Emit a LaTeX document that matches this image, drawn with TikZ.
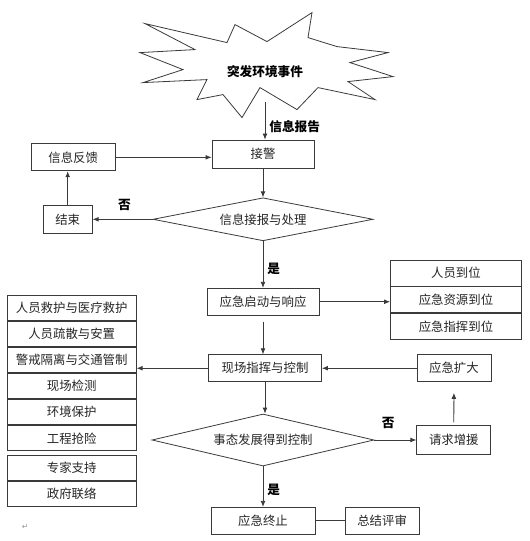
\documentclass[tikz,border=0pt]{standalone}
\usepackage{fontspec}
\setmainfont{Noto Sans CJK SC}
\newfontfamily\markfont{DejaVu Sans}
\usepackage{tikz}
\usetikzlibrary{arrows.meta,positioning,shapes.geometric}
\definecolor{ECLine}{HTML}{3A3A3A}
\definecolor{ECText}{HTML}{262626}
\definecolor{ECMark}{HTML}{9A9A9A}
\tikzset{
  ecBox/.style={
    rectangle, draw=ECLine, fill=white, line width=0.6pt,
    align=center, text=ECText, minimum width=#1, minimum height=20.25pt,
    inner sep=0pt, font=\fontsize{9.3}{11}\selectfont
  },
  ecBox/.default=76.5pt,
  ecItem/.style={ecBox=96.75pt, minimum height=18.9pt},
  ecStation/.style={ecBox=98.25pt, minimum height=19.5pt},
  ecDecide/.style={
    diamond, aspect=5, draw=ECLine, line width=0.6pt,
    align=center, text=ECText, inner sep=0pt, font=\fontsize{9.3}{11}\selectfont
  },
  ecArrow/.style={-{Latex[length=4.5pt,width=3.6pt]}, draw=ECLine, line width=0.6pt},
  ecLine/.style={draw=ECLine, line width=0.6pt},
  ecTag/.style={text=black, inner sep=1pt, font=\bfseries\fontsize{9.5}{11}\selectfont}
}

\begin{document}
\begin{tikzpicture}
  \node[ecBox=76.5pt, minimum height=21pt] (jiejing) {接警};
  \node[ecBox=63pt, left=72pt of jiejing, yshift=-2.5pt] (fankui) {信息反馈};
  \node[ecDecide, minimum width=165pt, minimum height=32.25pt, below=21.75pt of jiejing] (judge) {信息接报与处理};
  \node[ecBox=36.75pt, minimum height=21pt, left=45pt of judge] (jieshu) {结束};
  \node[ecBox=84pt, below=35pt of judge] (qidong) {应急启动与响应};
  \node[ecStation, right=53pt of qidong, yshift=1.5pt] (res2) {应急资源到位};
  \node[ecStation, above=0pt of res2] (res1) {人员到位};
  \node[ecStation, below=0pt of res2] (res3) {应急指挥到位};
  \node[ecBox=84.75pt, below=29pt of qidong, xshift=1.5pt] (xianchang) {现场指挥与控制};
  \node[ecBox=55.5pt, right=71pt of xianchang] (kuoda) {应急扩大};
  \node[ecDecide, minimum width=166.5pt, minimum height=39pt, below=23.6pt of xianchang, xshift=-1.5pt] (control) {事态发展得到控制};
  \node[ecBox=55.5pt, minimum height=21.75pt, right=31.5pt of control] (zengyuan) {请求增援};
  \node[ecBox=78pt, below=30.4pt of control] (zhongzhi) {应急终止};
  \node[ecBox=55.5pt, right=22pt of zhongzhi] (pingshen) {总结评审};

  % left task list
  \node[ecItem, left=53.6pt of xianchang, yshift=-13.5pt] (task4) {现场检测};
  \node[ecItem, above=0pt of task4] (task3) {警戒隔离与交通管制};
  \node[ecItem, above=0pt of task3] (task2) {人员疏散与安置};
  \node[ecItem, above=0pt of task2] (task1) {人员救护与医疗救护};
  \node[ecItem, below=0pt of task4] (task5) {环境保护};
  \node[ecItem, below=0pt of task5] (task6) {工程抢险};
  \node[ecItem, below=3pt of task6] (task7) {专家支持};
  \node[ecItem, below=0pt of task7] (task8) {政府联络};
  \node[inner sep=0pt, text=ECMark, font=\markfont\fontsize{6}{6}\selectfont, below right=13pt and 11pt of task8.south west] (parmark) {↵};

  % event burst
  \node[ecTag, above=51pt of jiejing, anchor=center, xshift=1.5pt] (event) {突发环境事件};
  \draw[ecLine, shift={(event.center)}] (-90pt,36pt) -- (-28.5pt,21.75pt) -- (-22.5pt,35.25pt)
    -- (1.5pt,22.5pt) -- (35.25pt,44.25pt) -- (32.25pt,25.5pt) -- (54pt,18.75pt)
    -- (92.25pt,14.25pt) -- (63.75pt,6.75pt) -- (96pt,-3.75pt) -- (62.25pt,-7.5pt)
    -- (82.5pt,-21pt) -- (39.75pt,-12pt) -- (24pt,-28.5pt) -- (-3.75pt,-12pt)
    -- (-17.25pt,-34.5pt) -- (-31.5pt,-17.25pt) -- (-51pt,-21pt) -- (-43.5pt,-6pt)
    -- (-91.5pt,-8.25pt) -- (-61.5pt,1.5pt) -- (-93.75pt,14.25pt) -- (-52.5pt,16.5pt) -- cycle;
  \coordinate (eventfoot) at ([yshift=-23pt]event.center);

  \draw[ecArrow] (eventfoot) -- node[ecTag, pos=0.65, right=2pt]{信息报告} (eventfoot |- jiejing.north);
  \draw[ecArrow] (jiejing.south) -- (judge.north);
  \draw[ecArrow] (judge.west) -- node[ecTag, pos=0.47, above=5pt]{否} (jieshu.east);
  \draw[ecArrow] (jieshu.north) -- (jieshu.north |- fankui.south);
  \draw[ecArrow] (fankui.east) -- (fankui.east -| jiejing.west);
  \draw[ecArrow] (judge.south) -- node[ecTag, pos=0.6, right=2pt]{是} (qidong.north);
  \draw[ecArrow] (qidong.east) -- (qidong.east -| res2.west);
  \draw[ecArrow, shorten <=4.5pt] (qidong.south) -- (qidong.south |- xianchang.north);
  \draw[ecArrow] (xianchang.west) -- (xianchang.west -| task4.east);
  \draw[ecArrow] (kuoda.west) -- (xianchang.east);
  \draw[ecArrow] (xianchang.south |- xianchang.south) -- (xianchang.south |- control.north);
  \draw[ecArrow] (control.east) -- node[ecTag, pos=0.33, above=7pt]{否} (zengyuan.west);
  \draw[ecArrow, shorten <=2pt, shorten >=8pt] (zengyuan.north) -- (kuoda.south);
  \draw[ecArrow] (control.south) -- node[ecTag, pos=0.57, right=2pt]{是} (zhongzhi.north);
  \draw[ecLine] (zhongzhi.east) -- (pingshen.west);

  \useasboundingbox (-197.25pt,-290.25pt) rectangle (200.25pt,115.5pt);
\end{tikzpicture}
\end{document}
